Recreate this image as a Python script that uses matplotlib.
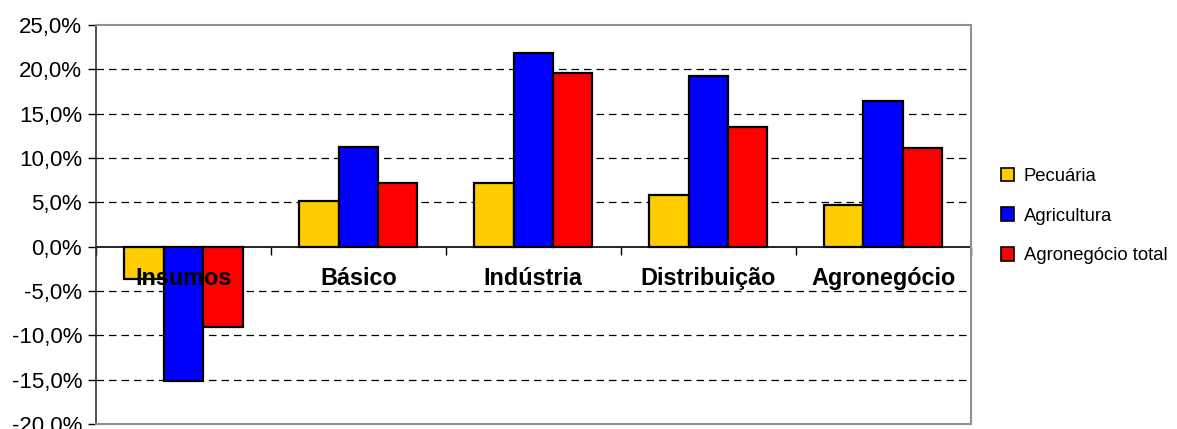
import matplotlib
matplotlib.use("Agg")
import matplotlib.pyplot as plt
import matplotlib.transforms as mtransforms
import numpy as np

plt.rcParams['font.family'] = ['Liberation Sans', 'DejaVu Sans']

# Data
categorias = ["Insumos", "Básico", "Indústria", "Distribuição", "Agronegócio"]
pecuaria = [-3.6, 5.1, 7.2, 5.8, 4.7]
agricultura = [-15.1, 11.2, 21.8, 19.3, 16.4]
agro_total = [-9.1, 7.2, 19.6, 13.5, 11.1]
series_nomes = ["Pecuária", "Agricultura", "Agronegócio total"]
yticks = [-20, -15, -10, -5, 0, 5, 10, 15, 20, 25]
ytick_labels = ["-20,0%", "-15,0%", "-10,0%", "-5,0%", "0,0%",
                "5,0%", "10,0%", "15,0%", "20,0%", "25,0%"]

cores = ["#FFCC00", "#0000FF", "#FF0000"]

fig = plt.figure(figsize=(11.77, 4.29), dpi=100)
ax = fig.add_axes([0.0816, 0.0117, 0.743, 0.930])

x = np.arange(len(categorias))
w = 0.225
for k, (vals, nome) in enumerate(zip([pecuaria, agricultura, agro_total], series_nomes)):
    ax.bar(x + (k - 1) * w, vals, w, color=cores[k], edgecolor="black",
           linewidth=1.6, label=nome, zorder=3)

ax.set_xlim(-0.5, 4.5)
ax.set_ylim(-20, 25)
ax.set_xticks([])
ax.set_yticks(yticks)
ax.set_yticklabels(ytick_labels, fontsize=16)
ax.tick_params(axis="y", direction="out", length=6, width=1, pad=4)

# dashed grid
for yv in yticks[1:-1]:
    if yv != 0:
        ax.axhline(yv, color="black", lw=0.9, ls=(0, (6, 4)), zorder=1)

for s in ["top", "right", "bottom"]:
    ax.spines[s].set_color("#909090")
    ax.spines[s].set_linewidth(1.5)
ax.spines["left"].set_color("#333333")
ax.spines["left"].set_linewidth(1.2)

# zero axis with category tick marks
secax = ax.secondary_xaxis(0, transform=ax.transData)
secax.set_xticks(np.arange(-0.5, 4.6, 1.0))
secax.set_xticklabels([])
secax.tick_params(direction="out", length=6, width=1, color="black")
secax.spines["bottom"].set_color("black")
secax.spines["bottom"].set_linewidth(1.2)

off = mtransforms.offset_copy(ax.transData, fig=fig, x=0, y=-32, units="dots")
for i, c in enumerate(categorias):
    ax.text(i, 0, c, transform=off, ha="center", va="center",
            fontsize=16.8, fontweight="bold", zorder=5)

leg = fig.legend(loc="upper left", bbox_to_anchor=(0.836, 0.648), frameon=False,
                 fontsize=13.3, handlelength=0.75, handleheight=0.75,
                 handletextpad=0.5, labelspacing=1.22)
for h in leg.legend_handles:
    h.set_linewidth(1.2)

fig.savefig("out.png", dpi=100)
